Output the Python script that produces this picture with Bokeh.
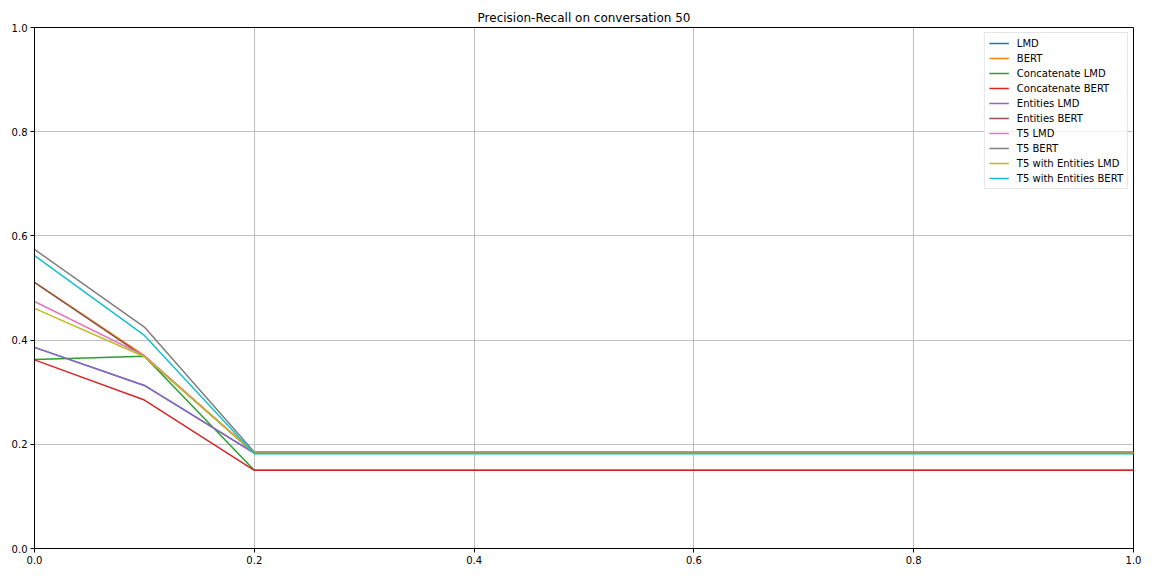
from bokeh.plotting import figure
from bokeh.models import Legend, LegendItem, PrintfTickFormatter, FixedTicker
from bokeh.embed import file_html
from bokeh.resources import INLINE

recall = [0.0, 0.1, 0.2, 0.3, 0.4, 0.5, 0.6, 0.7, 0.8, 0.9, 1.0]

names = ["LMD", "BERT", "Concatenate LMD", "Concatenate BERT", "Entities LMD",
         "Entities BERT", "T5 LMD", "T5 BERT", "T5 with Entities LMD", "T5 with Entities BERT"]
colors = ["#1f77b4", "#ff7f0e", "#2ca02c", "#d62728", "#9467bd",
          "#8c564b", "#e377c2", "#7f7f7f", "#bcbd22", "#17becf"]

lmd = [0.386, 0.313, 0.183, 0.183, 0.183, 0.183, 0.183, 0.183, 0.183, 0.183, 0.183]
bert = [0.511, 0.370, 0.183, 0.183, 0.183, 0.183, 0.183, 0.183, 0.183, 0.183, 0.183]
concat_lmd = [0.363, 0.369, 0.150, 0.150, 0.150, 0.150, 0.150, 0.150, 0.150, 0.150, 0.150]
concat_bert = [0.362, 0.285, 0.150, 0.150, 0.150, 0.150, 0.150, 0.150, 0.150, 0.150, 0.150]
entities_lmd = [0.386, 0.313, 0.183, 0.183, 0.183, 0.183, 0.183, 0.183, 0.183, 0.183, 0.183]
entities_bert = [0.511, 0.368, 0.183, 0.183, 0.183, 0.183, 0.183, 0.183, 0.183, 0.183, 0.183]
t5_lmd = [0.474, 0.370, 0.183, 0.183, 0.183, 0.183, 0.183, 0.183, 0.183, 0.183, 0.183]
t5_bert = [0.574, 0.425, 0.185, 0.185, 0.185, 0.185, 0.185, 0.185, 0.185, 0.185, 0.185]
t5_ent_lmd = [0.461, 0.368, 0.183, 0.183, 0.183, 0.183, 0.183, 0.183, 0.183, 0.183, 0.183]
t5_ent_bert = [0.562, 0.409, 0.182, 0.182, 0.182, 0.182, 0.182, 0.182, 0.182, 0.182, 0.182]

series = [lmd, bert, concat_lmd, concat_bert, entities_lmd,
          entities_bert, t5_lmd, t5_bert, t5_ent_lmd, t5_ent_bert]

ticks = [0.0, 0.2, 0.4, 0.6, 0.8, 1.0]

p = figure(width=1145, height=568, output_backend="svg", toolbar_location=None,
           x_range=(0, 1), y_range=(0, 1),
           title="Precision-Recall on conversation 50",
           min_border_left=34, min_border_right=12, min_border_top=27, min_border_bottom=20)

p.title.align = "center"
p.title.text_font = "DejaVu Sans"
p.title.text_font_size = "12px"
p.title.text_font_style = "normal"
p.title.text_color = "black"
p.title.offset = 0
p.title.standoff = 6

for ax in (p.xaxis, p.yaxis):
    ax.ticker = FixedTicker(ticks=ticks)
    ax.formatter = PrintfTickFormatter(format="%.1f")
    ax.major_label_text_font = "DejaVu Sans"
    ax.major_label_text_font_size = "10px"
    ax.major_label_text_color = "black"
    ax.axis_line_color = "black"
    ax.major_tick_line_color = "black"
    ax.major_tick_out = 4
    ax.major_tick_in = 0
    ax.minor_tick_line_color = None
    ax.major_label_standoff = 3

p.outline_line_color = "black"
p.outline_line_width = 1
p.outline_line_alpha = 1
p.xgrid.grid_line_color = "#b0b0b0"
p.ygrid.grid_line_color = "#b0b0b0"
p.xgrid.grid_line_width = 0.8
p.ygrid.grid_line_width = 0.8
p.xgrid.ticker = FixedTicker(ticks=ticks)
p.ygrid.ticker = FixedTicker(ticks=ticks)

items = []
for name, col, ys in zip(names, colors, series):
    r = p.line(recall, ys, line_color=col, line_width=1.5)
    items.append(LegendItem(label=name, renderers=[r]))

legend = Legend(items=items, location="top_right",
                label_text_font="DejaVu Sans", label_text_font_size="10px",
                label_text_color="black",
                glyph_width=20, glyph_height=12, label_height=12, spacing=3,
                label_standoff=8, padding=4, margin=5,
                border_line_color="#cccccc", border_line_width=1,
                background_fill_alpha=0.8)
p.add_layout(legend)

open("out.html", "w").write(file_html(p, INLINE))
